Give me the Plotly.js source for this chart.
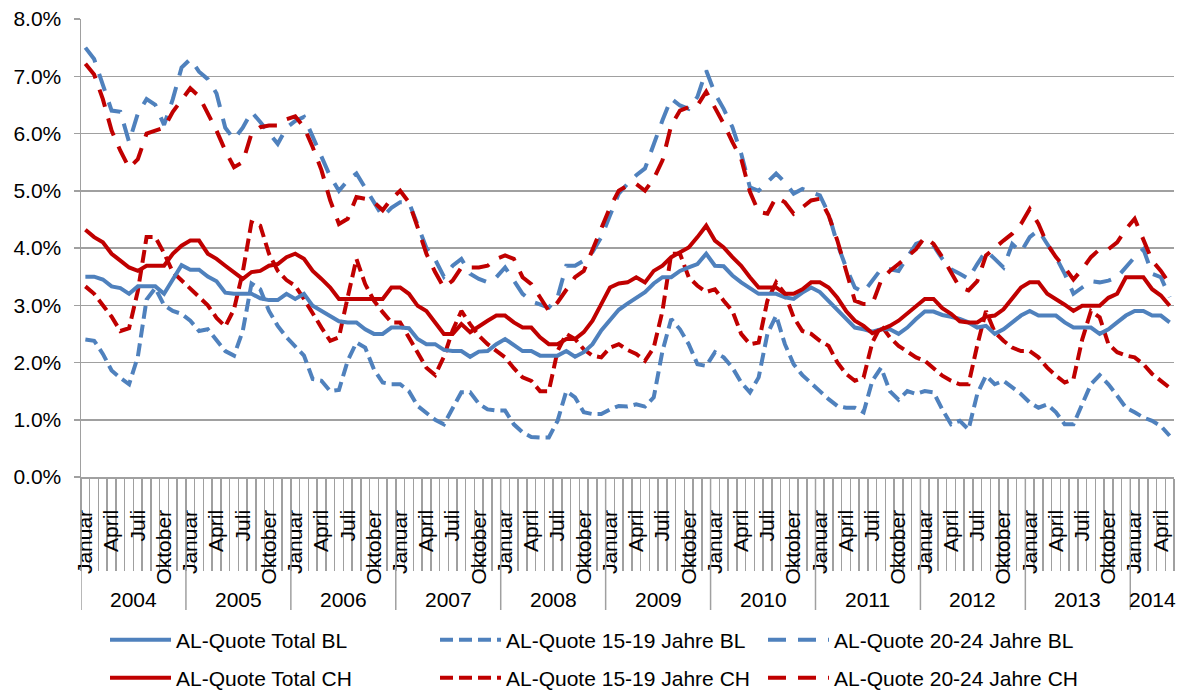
<!DOCTYPE html>
<html><head><meta charset="utf-8">
<script src="https://cdn.plot.ly/plotly-3.0.1.min.js"></script>
<style>html,body{margin:0;padding:0;background:#fff}#chart{width:1184px;height:691px}</style>
</head><body><div id="chart"></div>
<script>
// ---- data (unemployment rate in %, monthly Jan 2004 - May 2014) ----
const monthNames = ["Januar","Februar","März","April","Mai","Juni","Juli","August","September","Oktober","November","Dezember"];
const shownMonths = ["Januar","April","Juli","Oktober"];
const years = ["2004","2005","2006","2007","2008","2009","2010","2011","2012","2013","2014"];
const monthsPerYear = [12,12,12,12,12,12,12,12,12,12,5];

const totalBL = [3.5,3.5,3.45,3.33,3.3,3.2,3.33,3.33,3.33,3.2,3.45,3.7,3.62,3.62,3.5,3.42,3.22,3.2,3.2,3.2,3.12,
  3.09,3.09,3.2,3.11,3.2,2.99,2.9,2.82,2.72,2.7,2.7,2.58,2.5,2.5,2.61,2.61,2.6,2.41,2.32,2.32,2.22,
  2.2,2.2,2.1,2.19,2.2,2.32,2.41,2.31,2.2,2.2,2.12,2.12,2.12,2.2,2.1,2.18,2.32,2.56,2.73,2.92,
  3.03,3.13,3.23,3.38,3.49,3.49,3.6,3.66,3.72,3.9,3.69,3.68,3.52,3.4,3.3,3.2,3.2,3.2,3.14,3.11,3.22,
  3.31,3.23,3.08,2.93,2.76,2.61,2.58,2.54,2.58,2.58,2.5,2.61,2.76,2.89,2.89,2.83,2.8,2.76,2.7,2.61,2.64,
  2.5,2.58,2.7,2.82,2.9,2.82,2.82,2.82,2.7,2.61,2.61,2.61,2.5,2.58,2.7,2.82,2.9,2.9,2.82,2.82,2.7];
const youthBL = [2.4,2.38,2.15,1.86,1.73,1.62,2.1,3.1,3.3,3.0,2.9,2.85,2.73,2.55,2.58,2.38,2.2,2.12,2.55,3.38,3.28,
  2.9,2.64,2.44,2.29,2.12,1.71,1.68,1.5,1.52,2.03,2.35,2.26,1.88,1.65,1.62,1.62,1.5,1.24,1.13,1.0,0.92,
  1.21,1.48,1.48,1.28,1.18,1.16,1.16,0.92,0.78,0.7,0.69,0.69,0.98,1.5,1.39,1.13,1.1,1.1,1.18,1.24,
  1.23,1.27,1.23,1.39,2.2,2.76,2.58,2.32,1.97,1.94,2.18,2.09,1.91,1.65,1.48,1.74,2.5,2.82,2.32,1.97,1.78,
  1.65,1.5,1.36,1.24,1.21,1.21,1.13,1.68,1.91,1.5,1.35,1.5,1.45,1.5,1.48,1.18,0.92,0.98,0.83,1.45,1.77,
  1.62,1.68,1.56,1.45,1.3,1.21,1.27,1.13,0.92,0.92,1.27,1.62,1.78,1.62,1.42,1.21,1.13,1.04,0.98,0.89,0.72];
const youngAdultBL = [7.5,7.3,6.85,6.4,6.38,5.85,6.35,6.6,6.5,6.15,6.6,7.15,7.3,7.08,6.95,6.7,6.1,5.9,6.1,6.38,6.2,
  6.0,5.82,6.1,6.22,6.29,5.94,5.6,5.25,5.0,5.18,5.3,5.04,4.8,4.55,4.7,4.8,4.8,4.42,4.0,3.8,3.5,
  3.69,3.81,3.55,3.46,3.4,3.49,3.66,3.43,3.2,3.07,3.02,2.96,3.14,3.69,3.69,3.78,3.93,4.19,4.57,4.95,
  5.12,5.27,5.39,5.82,6.23,6.61,6.49,6.43,6.64,7.1,6.7,6.43,6.11,5.65,5.06,5.0,5.15,5.3,5.15,4.95,5.03,
  4.98,4.92,4.6,4.07,3.66,3.31,3.23,3.43,3.63,3.63,3.6,3.84,4.07,4.13,4.04,3.81,3.63,3.55,3.46,3.72,3.95,
  3.81,3.66,4.07,3.93,4.19,4.31,4.07,3.84,3.55,3.2,3.31,3.42,3.4,3.43,3.49,3.66,3.84,3.98,3.55,3.49,3.14];
const totalCH = [4.32,4.19,4.1,3.9,3.78,3.66,3.6,3.69,3.69,3.69,3.9,4.04,4.13,4.13,3.9,3.81,3.69,3.58,3.46,3.58,3.6,
  3.69,3.72,3.84,3.9,3.81,3.6,3.46,3.31,3.11,3.11,3.11,3.11,3.11,3.11,3.31,3.31,3.2,2.99,2.9,2.7,2.5,
  2.5,2.67,2.53,2.64,2.73,2.82,2.82,2.7,2.61,2.61,2.44,2.32,2.32,2.41,2.41,2.53,2.73,3.02,3.31,3.38,
  3.4,3.49,3.4,3.6,3.69,3.84,3.93,4.01,4.19,4.39,4.13,4.01,3.84,3.69,3.49,3.31,3.31,3.31,3.2,3.2,3.28,
  3.4,3.4,3.31,3.13,2.9,2.73,2.64,2.51,2.58,2.64,2.73,2.85,2.99,3.11,3.11,2.95,2.85,2.72,2.7,2.7,2.8,
  2.82,2.93,3.13,3.31,3.4,3.4,3.2,3.11,3.01,2.9,2.99,2.99,2.99,3.13,3.2,3.49,3.49,3.49,3.28,3.17,2.99];
const youthCH = [3.33,3.2,3.0,2.8,2.55,2.6,3.25,4.19,4.19,3.91,3.58,3.43,3.3,3.14,3.0,2.78,2.63,2.93,3.58,4.45,4.39,
  3.9,3.6,3.44,3.34,3.11,2.85,2.61,2.38,2.44,3.14,3.81,3.37,3.08,2.88,2.7,2.7,2.44,2.15,1.91,1.78,2.1,
  2.56,2.9,2.67,2.47,2.32,2.2,2.09,1.9,1.74,1.68,1.5,1.5,2.2,2.5,2.41,2.23,2.12,2.09,2.26,2.32,
  2.22,2.15,2.03,2.26,2.9,3.9,3.9,3.49,3.34,3.23,3.28,3.08,2.9,2.5,2.32,2.35,3.08,3.4,3.2,2.79,2.55,
  2.5,2.38,2.29,2.0,1.8,1.68,1.74,2.35,2.65,2.44,2.29,2.18,2.09,2.03,1.91,1.77,1.68,1.62,1.62,2.3,2.9,
  2.53,2.38,2.26,2.2,2.2,2.09,1.91,1.77,1.65,1.71,2.4,2.9,2.79,2.32,2.18,2.12,2.09,1.97,1.8,1.68,1.56];
const youngAdultCH = [7.22,7.03,6.6,6.05,5.7,5.4,5.55,6.0,6.05,6.1,6.38,6.6,6.79,6.65,6.35,6.05,5.7,5.41,5.5,6.0,6.11,
  6.14,6.14,6.25,6.3,6.11,5.76,5.36,4.83,4.42,4.51,4.89,4.86,4.8,4.66,4.86,5.0,4.8,4.36,3.9,3.58,3.31,
  3.43,3.66,3.66,3.66,3.69,3.81,3.87,3.81,3.49,3.37,3.14,2.9,3.05,3.26,3.49,3.6,3.96,4.36,4.71,5.0,
  5.09,5.12,5.0,5.21,5.53,6.14,6.4,6.46,6.49,6.73,6.46,6.17,5.85,5.56,4.98,4.63,4.6,4.89,4.8,4.6,4.71,
  4.83,4.86,4.57,4.13,3.6,3.08,3.02,3.02,3.43,3.6,3.72,3.84,3.98,4.19,4.07,3.84,3.58,3.31,3.26,3.42,3.87,
  4.01,4.13,4.25,4.42,4.68,4.42,4.07,3.84,3.66,3.45,3.63,3.84,3.98,3.98,4.1,4.33,4.51,4.13,3.78,3.6,3.37];

const seriesNames = ["AL-Quote Total BL","AL-Quote 15-19 Jahre BL","AL-Quote 20-24 Jahre BL",
                     "AL-Quote Total CH","AL-Quote 15-19 Jahre CH","AL-Quote 20-24 Jahre CH"];

// ---- build category index ----
const monthLabels = [];
const yearStart = [];
years.forEach((y, k) => {
  yearStart.push(monthLabels.length);
  for (let m = 0; m < monthsPerYear[k]; m++) monthLabels.push(monthNames[m]);
});
const xIdx = monthLabels.map((_, i) => i);
const tickvals = xIdx.filter(i => shownMonths.includes(monthLabels[i]));
const ticktext = tickvals.map(i => monthLabels[i]);

const BLUE = "#4F81BD", RED = "#C00000", GRID = "#a0a0a0";
const FONT = "Liberation Sans, Arial, sans-serif";
const FS = 21;
const DASH_SHORT = "13px,6px", DASH_LONG = "18px,12px";
const styles = [
  {color: BLUE, dash: "solid"}, {color: BLUE, dash: DASH_SHORT}, {color: BLUE, dash: DASH_LONG},
  {color: RED, dash: "solid"},  {color: RED, dash: DASH_SHORT},  {color: RED, dash: DASH_LONG}
];
const legendIds = ["legend","legend2","legend3","legend4","legend5","legend6"];
const dataArrays = [totalBL, youthBL, youngAdultBL, totalCH, youthCH, youngAdultCH];
// draw order: dashed first, solid on top
const order = [2,5,1,4,0,3];
const traces = [0,1,2,3,4,5].map(k => ({
  type: "scatter", mode: "lines", name: seriesNames[k],
  x: xIdx, y: dataArrays[k],
  line: {color: styles[k].color, width: 4, dash: styles[k].dash},
  legend: legendIds[k], hoverinfo: "skip"
}));

const W = 1184, H = 691;
const plotLeft = 81, plotRight = 1174, plotTop = 19, plotBottom = 477;
const plotW = plotRight - plotLeft, plotH = plotBottom - plotTop;
const py = p => (plotBottom - p) / plotH;   // pixel y -> paper y
const px = p => (p - plotLeft) / plotW;     // pixel x -> paper x

const shapes = yearStart.map(s => ({
  type: "line", xref: "x", yref: "paper",
  x0: s - 0.5, x1: s - 0.5, y0: 0, y1: py(610),
  line: {color: GRID, width: 1.5}
}));
const annotations = years.map((y, k) => ({
  xref: "x", yref: "paper",
  x: yearStart[k] + (monthsPerYear[k] - 1) / 2, y: py(599),
  text: y, showarrow: false, xanchor: "center", yanchor: "middle",
  font: {family: FONT, size: FS, color: "#000"}
}));

// legend placement: columns and rows (pixel positions of the legend boxes)
const legendCols = [105, 435, 763];
const legendRows = [640, 678];
const layout = {
  width: W, height: H,
  margin: {l: plotLeft, r: W - plotRight, t: plotTop, b: H - plotBottom, autoexpand: false},
  paper_bgcolor: "#fff", plot_bgcolor: "#fff",
  font: {family: FONT, size: FS, color: "#000"},
  showlegend: true,
  xaxis: {
    range: [-0.5, xIdx.length - 0.5], tickmode: "array", tickvals: tickvals, ticktext: ticktext,
    tickangle: -90, ticks: "", ticklabelstandoff: 23, automargin: false,
    showgrid: false, zeroline: false, showline: true, linecolor: GRID, linewidth: 1.5,
    tickfont: {family: FONT, size: FS, color: "#000"},
    minor: {tickmode: "linear", tick0: 0.5, dtick: 1, ticks: "outside", ticklen: 92, tickcolor: GRID, tickwidth: 1.5, showgrid: false}
  },
  yaxis: {
    range: [0, 8], dtick: 1, tick0: 0, tickformat: ".1f", ticksuffix: "%", automargin: false,
    showgrid: true, gridcolor: GRID, gridwidth: 1.5,
    zeroline: false, showline: true, linecolor: GRID, linewidth: 1.5,
    ticks: "outside", ticklen: 6, tickcolor: GRID, tickwidth: 1.5, ticklabelstandoff: 8,
    tickfont: {family: FONT, size: FS, color: "#000"}
  },
  shapes: shapes,
  annotations: annotations
};
legendIds.forEach((id, k) => {
  layout[id] = {
    orientation: "v", xanchor: "left", yanchor: "middle",
    x: px(legendCols[k % 3]), y: py(legendRows[Math.floor(k / 3)]),
    itemwidth: 61, bgcolor: "rgba(0,0,0,0)", borderwidth: 0,
    font: {family: FONT, size: FS, color: "#000"}
  };
});

Plotly.newPlot("chart", order.map(k => traces[k]), layout, {displayModeBar: false, staticPlot: true});
</script>
</body></html>
